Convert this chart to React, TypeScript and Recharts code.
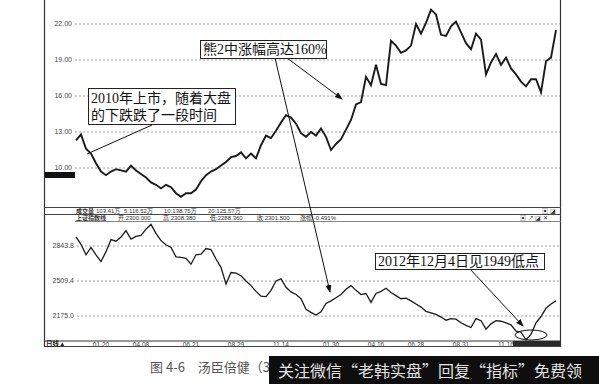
import { LineChart, Line, XAxis, YAxis, ReferenceLine } from "recharts";

// 汤臣倍健 close, sampled every ~5 trading days
const priceValues = [
  12.3, 12.8, 11.6, 11.2, 10.4, 9.7, 9.4, 9.7, 9.9, 9.8,
  9.7, 10.2, 9.8, 9.5, 9.2, 8.8, 8.6, 8.3, 8.6, 8.4,
  7.9, 7.6, 7.9, 7.9, 8.2, 8.9, 9.4, 9.7, 9.9, 10.2,
  10.5, 10.9, 11.0, 11.3, 10.8, 11.2, 10.8, 11.9, 12.7, 12.5,
  13.1, 13.8, 14.4, 14.2, 13.7, 12.9, 12.6, 13.0, 12.7, 13.3,
  12.6, 11.5, 12.0, 12.4, 13.2, 14.0, 15.3, 15.5, 17.6, 16.9,
  18.6, 17.0, 16.9, 20.6, 20.2, 19.6, 19.8, 20.2, 22.0, 21.2,
  22.1, 23.2, 22.8, 21.1, 21.0, 21.8, 22.2, 21.3, 20.4, 19.9,
  21.2, 20.7, 17.8, 18.8, 19.5, 18.6, 19.2, 18.3, 17.8, 17.2,
  16.8, 17.4, 17.4, 16.3, 18.9, 19.2, 21.5,
];

// 上证指数 close, same days
const indexValues = [
  2930, 2860, 2760, 2830, 2760, 2695, 2790, 2905, 2890, 2930,
  2990, 2910, 2935, 2945, 3005, 3050, 2965, 2895, 2855, 2830,
  2740, 2735, 2725, 2670, 2760, 2765, 2820, 2810, 2720, 2640,
  2480, 2590, 2585, 2560, 2510, 2465, 2410, 2365, 2360, 2420,
  2510, 2530, 2450, 2405, 2380, 2340, 2240, 2210, 2185, 2215,
  2295, 2320, 2350, 2380, 2430, 2465, 2420, 2380, 2390, 2305,
  2390, 2410, 2440, 2400, 2370, 2340, 2345, 2320, 2290, 2260,
  2220, 2205, 2190, 2165, 2135, 2150, 2145, 2110, 2085, 2065,
  2150, 2130, 2050, 2100, 2130, 2125, 2110, 2090, 2030, 2020,
  1949, 2000, 2110, 2170, 2250, 2290, 2320,
];

const priceTicks = [10, 13, 16, 19, 22];
const indexTicks = [2175.0, 2509.4, 2843.8];
const dateTickDays = [5, 13, 23, 32, 41, 51, 60, 68, 77, 86];
const dateTickLabels = ["01.20", "04.08", "06.21", "08.29", "11.14", "01.30", "04.16", "06.28", "08.31", "11.16"];

const priceRows = priceValues.map((price, day) => ({ day, price }));
const indexRows = indexValues.map((close, day) => ({ day, close }));

const dayDomain: [number, number] = [-6.4, 96.8];
const cjk = "'Liberation Serif', 'Noto Sans CJK SC', serif";
const small = "'Liberation Sans', 'Noto Sans CJK SC', sans-serif";

const boxStyle: React.CSSProperties = {
  position: "absolute",
  background: "#fff",
  border: "1.5px solid #222",
  fontFamily: cjk,
  fontSize: 14,
  lineHeight: "17px",
  color: "#111",
  whiteSpace: "nowrap",
  padding: "0 2px",
  boxSizing: "border-box",
};

export default function App() {
  return (
    <div
      style={{
        position: "absolute",
        left: 0,
        top: 0,
        width: 599,
        height: 384,
        background: "#fff",
        overflow: "hidden",
      }}
    >
      <div style={{ position: "absolute", left: 0, top: 0 }}>
        <LineChart width={599} height={206} data={priceRows} margin={{ top: 0, right: 39, left: 44, bottom: 2 }}>
          <XAxis type="number" dataKey="day" domain={dayDomain} allowDataOverflow hide />
          <YAxis type="number" domain={[7, 24]} allowDataOverflow hide />
          {priceTicks.map((v) => (
            <ReferenceLine
              key={v}
              segment={[{ x: -0.2, y: v }, { x: 96.8, y: v }]}
              stroke="#888"
              strokeDasharray="2 2"
              strokeWidth={0.8}
              label={{ value: v.toFixed(2), position: "left", offset: 3, fontSize: 7, fill: "#444", fontFamily: small }}
            />
          ))}
          <Line
            type="linear"
            dataKey="price"
            stroke="#1a1a1a"
            strokeWidth={1.9}
            dot={false}
            isAnimationActive={false}
          />
        </LineChart>
      </div>

      <div style={{ position: "absolute", left: 0, top: 222 }}>
        <LineChart width={599} height={127} data={indexRows} margin={{ top: 0, right: 39, left: 44, bottom: 0 }}>
          <XAxis
            type="number"
            dataKey="day"
            domain={dayDomain}
            allowDataOverflow
            ticks={dateTickDays}
            tickFormatter={(d: number) => dateTickLabels[dateTickDays.indexOf(d)] ?? ""}
            height={8}
            tickSize={0}
            tickMargin={1}
            tick={{ fontSize: 6.5, fill: "#444", fontFamily: small }}
            axisLine={{ stroke: "#333" }}
            interval={0}
          />
          <YAxis type="number" domain={[1936.2, 3073.1]} allowDataOverflow hide />
          {indexTicks.map((v) => (
            <ReferenceLine
              key={v}
              segment={[{ x: 0.2, y: v }, { x: 96.8, y: v }]}
              stroke="#888"
              strokeDasharray="2 2"
              strokeWidth={0.8}
              label={{ value: v.toFixed(1), position: "left", offset: 3, fontSize: 7, fill: "#444", fontFamily: small }}
            />
          ))}
          <Line
            type="linear"
            dataKey="close"
            stroke="#1a1a1a"
            strokeWidth={1.3}
            dot={false}
            isAnimationActive={false}
          />
        </LineChart>
      </div>

      <svg
        width={599}
        height={384}
        style={{ position: "absolute", left: 0, top: 0, pointerEvents: "none" }}
      >
        <defs>
          <marker id="ah" markerWidth="8" markerHeight="6" refX="7" refY="3" orient="auto">
            <path d="M0,0 L8,3 L0,6 z" fill="#111" />
          </marker>
        </defs>
        {/* frame */}
        <line x1={44.5} y1={0} x2={44.5} y2={347} stroke="#333" strokeWidth={1.2} />
        <line x1={560.5} y1={0} x2={560.5} y2={347} stroke="#333" strokeWidth={1.2} />
        <line x1={44} y1={207.5} x2={561} y2={207.5} stroke="#444" strokeWidth={1} />
        <line x1={44} y1={214.5} x2={561} y2={214.5} stroke="#444" strokeWidth={1} />
        <line x1={75} y1={221.5} x2={561} y2={221.5} stroke="#666" strokeWidth={0.8} />
        <line x1={44} y1={346.5} x2={561} y2={346.5} stroke="#444" strokeWidth={1} />
        <rect x={45} y={172} width={30} height={6} fill="#111" />
        <rect x={513} y={341} width={47} height={5} fill="#2a2a2a" />
        <text x={46} y={346} fontSize={6.5} fill="#222" fontFamily={small} fontWeight="bold">日线▲</text>

        {/* header rows */}
        <g fontSize={6} fill="#333" fontFamily={small}>
          <text x={76} y={213} fontWeight="bold">成交量</text>
          <text x={96} y={213}>103.41万</text>
          <text x={124} y={213}>5:116.52万</text>
          <text x={164} y={213}>10:138.75万</text>
          <text x={208} y={213}>20:125.57万</text>
          <text x={76} y={220} fontWeight="bold">上证指数线</text>
          <text x={118} y={220}>开:2300.000</text>
          <text x={163} y={220}>高:2308.380</text>
          <text x={210} y={220}>低:2288.360</text>
          <text x={257} y={220}>收:2301.500</text>
          <text x={300} y={220}>涨幅:-0.491%</text>
          <text x={542} y={213}>▣ ◪</text>
          <text x={520} y={220}>▣ ↗ ◪ ✕</text>
        </g>

        {/* annotation leaders */}
        <line x1={152} y1={125} x2={87} y2={154} stroke="#111" strokeWidth={1} />
        <line x1={275} y1={58} x2={330} y2={292} stroke="#111" strokeWidth={1} markerEnd="url(#ah)" />
        <line x1={287} y1={58} x2={342} y2={99} stroke="#111" strokeWidth={1} markerEnd="url(#ah)" />
        <line x1={470} y1={269} x2={523} y2={326} stroke="#111" strokeWidth={1} markerEnd="url(#ah)" />
        <ellipse cx={531} cy={335} rx={16} ry={5} fill="none" stroke="#111" strokeWidth={1} />

        {/* caption, cut by the black banner */}
        <text x={150} y={372} fontSize={13} fill="#555" fontFamily="'Noto Sans CJK SC', sans-serif">
          图 4-6　汤臣倍健（3
        </text>
      </svg>

      <div style={{ ...boxStyle, left: 88, top: 88, width: 148, height: 37, padding: "1px 2px" }}>
        2010年上市，随着大盘
        <br />
        的下跌跌了一段时间
      </div>
      <div style={{ ...boxStyle, left: 200, top: 40, width: 127, height: 19 }}>熊2中涨幅高达160%</div>
      <div style={{ ...boxStyle, left: 375, top: 253, width: 170, height: 17, lineHeight: "15px" }}>
        2012年12月4日见1949低点
      </div>

      <div
        style={{
          position: "absolute",
          left: 269,
          top: 356,
          width: 330,
          height: 28,
          background: "#0e0e0e",
          color: "#e2e2e2",
          fontFamily: "'Noto Sans CJK SC', sans-serif",
          fontSize: 16,
          lineHeight: "28px",
          paddingLeft: 9,
          whiteSpace: "nowrap",
          boxSizing: "border-box",
        }}
      >
        关注微信“老韩实盘”回复“指标”免费领
      </div>
    </div>
  );
}
